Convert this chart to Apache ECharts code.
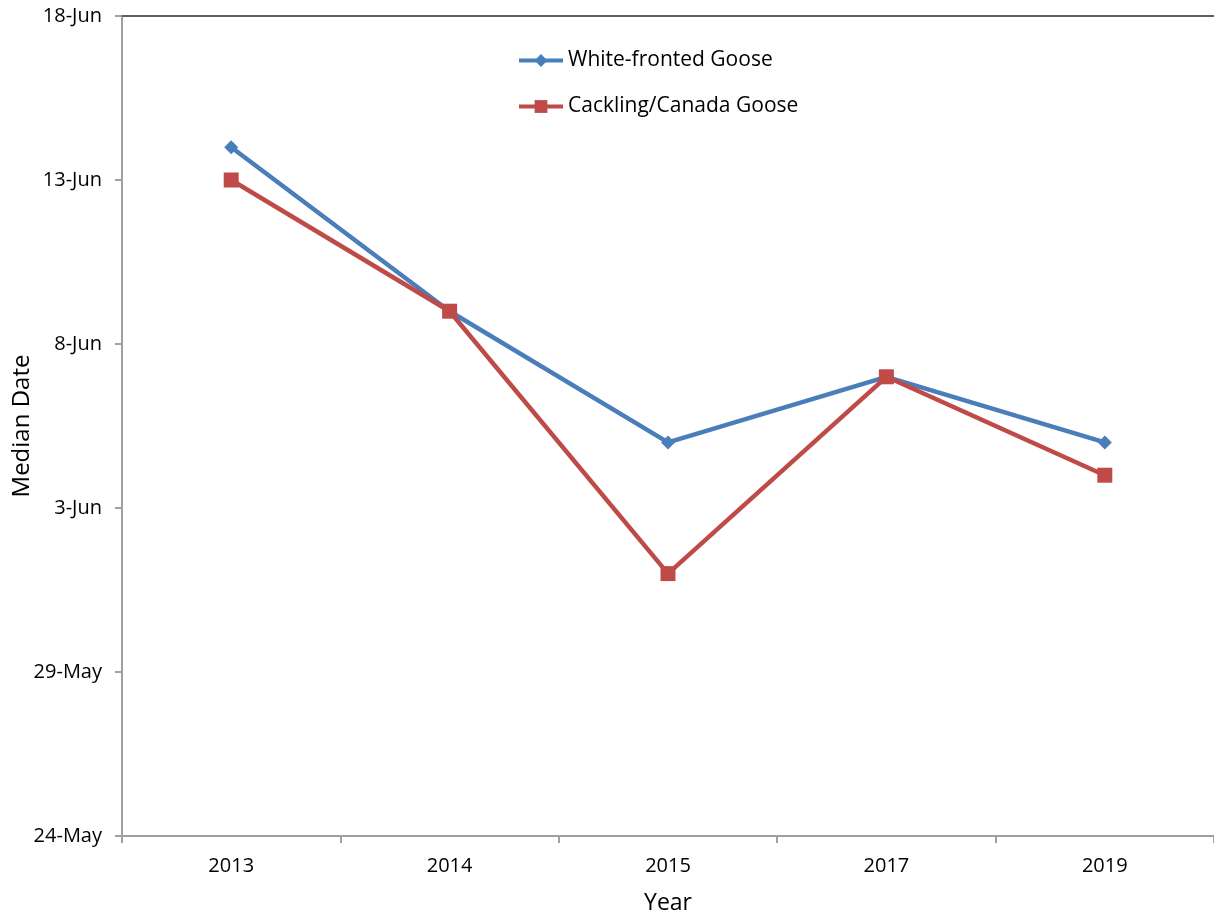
<!DOCTYPE html>
<html>
<head>
<meta charset="utf-8">
<style type="text/css">
html, body { margin: 0; padding: 0; background: #fff; }
#chart { width: 1214px; height: 917px; }
</style>
</head>
<body>
<div id="chart"></div>
<script src="https://cdn.jsdelivr.net/npm/echarts@6/dist/echarts.min.js"></script>
<script>

let years = ['2013', '2014', '2015', '2017', '2019'];
// median dates
let whiteFronted = ['14-Jun', '9-Jun', '5-Jun', '7-Jun', '5-Jun'];
let cackling = ['13-Jun', '9-Jun', '1-Jun', '7-Jun', '4-Jun'];
let tickLabels = ['24-May', '29-May', '3-Jun', '8-Jun', '13-Jun', '18-Jun'];

// days counted from 24-May
function toDay(s) {
    let p = s.split('-');
    let d = parseInt(p[0], 10);
    return p[1] === 'May' ? d - 24 : d + 31 - 24;
}

let font = '"Open Sans", "Noto Sans", sans-serif';
let chart = echarts.init(document.getElementById('chart'));

let option = {
    backgroundColor: '#fff',
    animation: false,
    grid: { left: 122, right: 0, top: 16, bottom: 81, outerBoundsMode: 'none', containLabel: false },
    legend: {
        orient: 'vertical',
        left: 512,
        top: 45,
        itemGap: 25,
        itemWidth: 44,
        itemHeight: 16,
        lineStyle: { width: 4 },
        textStyle: { fontFamily: font, fontSize: 21, color: '#000' }
    },
    xAxis: [{
        type: 'category',
        data: years,
        boundaryGap: true,
        name: 'Year',
        nameLocation: 'middle',
        nameGap: 56,
        nameTextStyle: { fontFamily: font, fontSize: 23, color: '#000' },
        axisLine: { lineStyle: { color: '#a0a0a0', width: 2 } },
        axisTick: { show: true, length: 7, alignWithLabel: false, lineStyle: { color: '#a0a0a0', width: 2 } },
        axisLabel: { fontFamily: font, fontSize: 20, color: '#000', margin: 20 }
    }, {
        type: 'category',
        data: years,
        position: 'top',
        axisLine: { lineStyle: { color: '#606060', width: 2 } },
        axisTick: { show: false },
        axisLabel: { show: false }
    }],
    yAxis: {
        type: 'value',
        min: 0,
        max: 25,
        interval: 5,
        name: 'Median Date',
        nameLocation: 'middle',
        nameGap: 88,
        nameMoveOverlap: false,
        nameRotate: 90,
        nameTextStyle: { fontFamily: font, fontSize: 24, color: '#000' },
        axisLine: { show: true, lineStyle: { color: '#a0a0a0', width: 2 } },
        axisTick: { show: true, length: 7, lineStyle: { color: '#a0a0a0', width: 2 } },
        splitLine: { show: false },
        axisLabel: {
            fontFamily: font, fontSize: 20, color: '#000', margin: 20,
            formatter: v => tickLabels[v / 5]
        }
    },
    series: [{
        name: 'White-fronted Goose',
        type: 'line',
        data: whiteFronted.map(toDay),
        color: '#4a7ebb',
        symbol: 'diamond',
        symbolSize: 14,
        lineStyle: { width: 4.5 },
        itemStyle: { color: '#4a7ebb' }
    }, {
        name: 'Cackling/Canada Goose',
        type: 'line',
        data: cackling.map(toDay),
        color: '#be4b48',
        symbol: 'rect',
        symbolSize: 15,
        lineStyle: { width: 4.5 },
        itemStyle: { color: '#be4b48' }
    }]
};

chart.setOption(option);

</script>
</body>
</html>
